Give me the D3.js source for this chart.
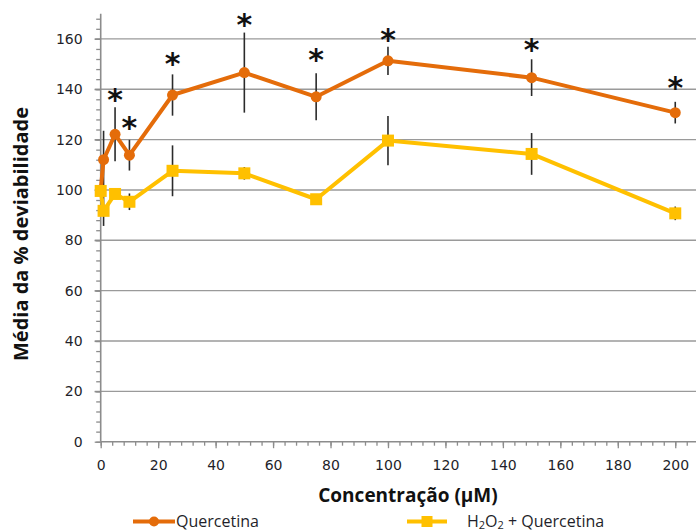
<!DOCTYPE html>
<html>
<head>
<meta charset="utf-8">
<script src="https://cdn.jsdelivr.net/npm/d3@7"></script>
<style>
  html, body { margin: 0; padding: 0; background: #fff; }
  svg { display: block; }
</style>
</head>
<body>
<svg id="chart" width="696" height="532"></svg>
<script>
// Concentrations (µM)
const concentrations = [0, 1, 5, 10, 25, 50, 75, 100, 150, 200];

// Mean viability (%) and error for quercetin alone
const quercetina      = [100, 112, 122.1, 113.8, 137.7, 146.6, 137.0, 151.3, 144.6, 130.7];
const quercetinaErr   = [0, 11.5, 10.7, 6.1, 8.2, 15.9, 9.3, 5.6, 7.3, 4.3];

// Mean viability (%) and error for H2O2 + quercetin
const h2o2Quercetina    = [99.6, 91.7, 98.4, 95.3, 107.6, 106.6, 96.3, 119.6, 114.3, 90.7];
const h2o2QuercetinaErr = [0, 6, 2, 3.3, 10.1, 2.5, 1.5, 9.8, 8.3, 2.7];

// Significance marks (concentration, height of the mark in % units)
const asteriskX = [5, 10, 25, 50, 75, 100, 150, 200];
const asteriskY = [137.0, 125.8, 151.2, 166.6, 152.9, 160.6, 156.9, 141.7];

// Axis ticks
const yTicks = [0, 20, 40, 60, 80, 100, 120, 140, 160];
const xTicks = [0, 20, 40, 60, 80, 100, 120, 140, 160, 180, 200];

const svg = d3.select("#chart");

const x = d3.scaleLinear().domain([0, 207.5]).range([100.7, 696.8]);
const y = d3.scaleLinear().domain([0, 170]).range([441.7, 13.7]);

const tickFont = "'DejaVu Sans', Verdana, sans-serif";
const textColor = "#1f1f2a";
const axisColor = "#8c8c8c";

// Horizontal gridlines
svg.append("g")
  .selectAll("line")
  .data(yTicks.filter(d => d > 0))
  .join("line")
  .attr("x1", x(0) - 6).attr("x2", 696)
  .attr("y1", d => y(d)).attr("y2", d => y(d))
  .attr("stroke", "#9a9a9a").attr("stroke-width", 1.4);

// Y axis: line, minor ticks every 4 units, major ticks and labels
const yAxisG = svg.append("g").attr("transform", `translate(${x(0)},0)`);
yAxisG.append("g")
  .call(d3.axisLeft(y).tickValues(d3.range(0, 170, 4)).tickSize(4.5).tickFormat(""))
  .call(g => g.select(".domain").remove())
  .selectAll("line").attr("stroke", axisColor).attr("stroke-width", 1.3);
yAxisG.append("g")
  .call(d3.axisLeft(y).tickValues(yTicks).tickSize(6).tickPadding(12))
  .call(g => g.select(".domain").attr("stroke", axisColor).attr("stroke-width", 1.6)
      .attr("d", `M0,${y(170)}V${y(0)}`))
  .call(g => g.selectAll("line").attr("stroke", axisColor).attr("stroke-width", 1.3))
  .call(g => g.selectAll("text").attr("font-family", tickFont).attr("font-size", 14)
      .attr("fill", textColor));

// X axis: line, minor ticks every 4 units, major ticks and labels
const xAxisG = svg.append("g").attr("transform", `translate(0,${y(0)})`);
xAxisG.append("g")
  .call(d3.axisBottom(x).tickValues(d3.range(0, 207, 4)).tickSize(4).tickFormat(""))
  .call(g => g.select(".domain").remove())
  .selectAll("line").attr("stroke", axisColor).attr("stroke-width", 1.3);
xAxisG.append("g")
  .call(d3.axisBottom(x).tickValues(xTicks).tickSize(6.5).tickPadding(12))
  .call(g => g.select(".domain").attr("stroke", axisColor).attr("stroke-width", 1.6)
      .attr("d", `M${x(0)},0H696`))
  .call(g => g.selectAll("line").attr("stroke", axisColor).attr("stroke-width", 1.3))
  .call(g => g.selectAll("text").attr("font-family", tickFont).attr("font-size", 14)
      .attr("fill", textColor));

// Series definitions
const series = [
  { name: "Quercetina", values: quercetina, err: quercetinaErr, color: "#E46C0A", marker: "circle" },
  { name: "H2O2 + Quercetina", values: h2o2Quercetina, err: h2o2QuercetinaErr, color: "#FFC000", marker: "square" }
];

// Error bars first, so markers sit on top of them
series.forEach(s => {
  svg.append("g")
    .selectAll("line")
    .data(concentrations.map((c, i) => ({ c, v: s.values[i], e: s.err[i] })).filter(d => d.e > 0))
    .join("line")
    .attr("x1", d => x(d.c)).attr("x2", d => x(d.c))
    .attr("y1", d => y(d.v + d.e)).attr("y2", d => y(d.v - d.e))
    .attr("stroke", "#2b2b2b").attr("stroke-width", 1.6);
});

const line = d3.line().x(d => x(d.c)).y(d => y(d.v));

series.forEach(s => {
  const pts = concentrations.map((c, i) => ({ c, v: s.values[i] }));
  const g = svg.append("g");
  g.append("path")
    .datum(pts)
    .attr("d", line)
    .attr("fill", "none")
    .attr("stroke", s.color)
    .attr("stroke-width", 4)
    .attr("stroke-linejoin", "round");
  if (s.marker === "circle") {
    g.selectAll("circle").data(pts).join("circle")
      .attr("cx", d => x(d.c)).attr("cy", d => y(d.v)).attr("r", 5.5)
      .attr("fill", s.color);
  } else {
    g.selectAll("rect").data(pts).join("rect")
      .attr("x", d => x(d.c) - 6).attr("y", d => y(d.v) - 6)
      .attr("width", 12).attr("height", 12)
      .attr("fill", s.color);
  }
});

// Significance asterisks
svg.append("g")
  .selectAll("text")
  .data(asteriskX.map((c, i) => ({ c, v: asteriskY[i] })))
  .join("text")
  .attr("x", d => x(d.c))
  .attr("y", d => y(d.v) + 13)
  .attr("text-anchor", "middle")
  .attr("font-family", tickFont)
  .attr("font-weight", "bold")
  .attr("font-size", 30)
  .attr("fill", "#111")
  .text("*");

// Axis titles
svg.append("text")
  .attr("x", 408).attr("y", 502)
  .attr("text-anchor", "middle")
  .attr("font-family", "'Open Sans', sans-serif")
  .attr("font-weight", "bold")
  .attr("font-size", 19)
  .attr("fill", "#111")
  .text("Concentração (µM)");

svg.append("text")
  .attr("transform", "translate(28,234) rotate(-90)")
  .attr("text-anchor", "middle")
  .attr("font-family", "'Open Sans', sans-serif")
  .attr("font-weight", "bold")
  .attr("font-size", 20)
  .attr("fill", "#111")
  .text("Média da % deviabilidade");

// Legend
const legend = svg.append("g").attr("font-family", "'Open Sans', sans-serif")
  .attr("font-size", 16).attr("fill", textColor);

const lg1 = legend.append("g");
lg1.append("line").attr("x1", 133).attr("x2", 175).attr("y1", 521.5).attr("y2", 521.5)
  .attr("stroke", series[0].color).attr("stroke-width", 4);
lg1.append("circle").attr("cx", 154).attr("cy", 521.5).attr("r", 5).attr("fill", series[0].color);
lg1.append("text").attr("x", 176).attr("y", 527).text("Quercetina");

const lg2 = legend.append("g");
lg2.append("line").attr("x1", 407).attr("x2", 447).attr("y1", 521.5).attr("y2", 521.5)
  .attr("stroke", series[1].color).attr("stroke-width", 4);
lg2.append("rect").attr("x", 421.5).attr("y", 516).attr("width", 11).attr("height", 11)
  .attr("fill", series[1].color);
const t2 = lg2.append("text").attr("x", 467).attr("y", 526.5);
t2.append("tspan").text("H");
t2.append("tspan").attr("font-size", 11).attr("dy", 2).text("2");
t2.append("tspan").attr("dy", -2).text("O");
t2.append("tspan").attr("font-size", 11).attr("dy", 2).text("2");
t2.append("tspan").attr("dy", -2).text(" + Quercetina");
</script>
</body>
</html>
